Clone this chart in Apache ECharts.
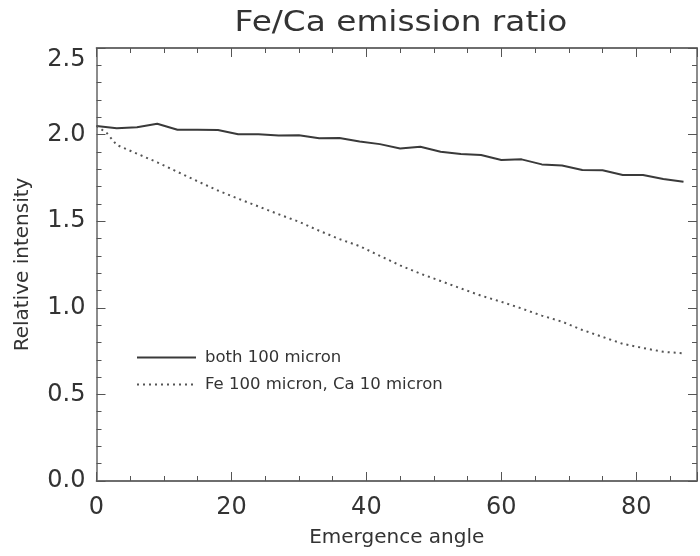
<!DOCTYPE html>
<html>
<head>
<meta charset="utf-8">
<script src="https://cdn.jsdelivr.net/npm/echarts@6/dist/echarts.min.js"></script>
<style>html,body{margin:0;padding:0;background:#fff;}#chart{width:700px;height:556px;}</style>
</head>
<body>
<div id="chart"></div>
<script>
// ---- data ----
const solidAngles = [0,3,6,9,12,15,18,21,24,27,30,33,36,39,42,45,48,51,54,57,60,63,66,69,72,75,78,81,84,87];
const solidValues = [2.05,2.037,2.042,2.063,2.028,2.028,2.027,2.002,2.002,1.995,1.996,1.979,1.980,1.960,1.945,1.920,1.930,1.901,1.888,1.882,1.853,1.857,1.828,1.822,1.796,1.794,1.767,1.767,1.744,1.728];
const dotAngles = [0,1.5,3,6,9,12,15,18,21,24,27,30,33,36,39,42,45,48,51,54,57,60,63,66,69,72,75,78,81,84,87];
const dotValues = [2.05,2.01,1.94,1.89,1.84,1.785,1.73,1.677,1.63,1.585,1.54,1.497,1.445,1.397,1.356,1.30,1.245,1.197,1.155,1.112,1.07,1.035,0.996,0.955,0.92,0.872,0.832,0.792,0.768,0.746,0.737];
const seriesNames = ['both 100 micron', 'Fe 100 micron, Ca 10 micron'];
const titleText = 'Fe/Ca emission ratio';
const xName = 'Emergence angle';
const yName = 'Relative intensity';

const FONT = 'DejaVu Sans';
const AX = '#666';
const chart = echarts.init(document.getElementById('chart'));

function xAx(pos, interval, len, labels) {
  return {
    type: 'value', position: pos, min: 0, max: 89, interval: interval, gridIndex: 0,
    axisLine: {show: true, onZero: false, lineStyle: {color: AX, width: 1.5}},
    axisTick: {show: true, inside: true, length: len, lineStyle: {color: '#555', width: 1}},
    axisLabel: labels ? {show: true, fontFamily: FONT, fontSize: 24, color: '#333', margin: 15,
      formatter: v => (v % 20 === 0 ? String(v) : '')} : {show: false},
    splitLine: {show: false},
    name: labels ? xName : '', nameLocation: 'middle', nameGap: 47,
    nameTextStyle: {fontFamily: FONT, fontSize: 20, color: '#333'}
  };
}
function yAx(pos, labels) {
  return {
    type: 'value', position: pos, min: 0, max: 2.5, interval: 0.5,
    axisLine: {show: true, onZero: false, lineStyle: {color: AX, width: 1.5}},
    axisTick: {show: true, inside: true, length: 9, lineStyle: {color: '#555'}},
    minorTick: {show: true, splitNumber: 5, length: 5, lineStyle: {color: '#555'}},
    axisLabel: labels ? {show: true, fontFamily: FONT, fontSize: 24, color: '#333', margin: 11,
      verticalAlignMaxLabel: 'top', formatter: v => v.toFixed(1)} : {show: false},
    splitLine: {show: false}, minorSplitLine: {show: false},
    name: labels ? yName : '', nameLocation: 'middle', nameGap: 64,
    nameTextStyle: {fontFamily: FONT, fontSize: 20, color: '#333'}
  };
}

chart.setOption({
  backgroundColor: '#fff',
  animation: false,
  grid: {left: 96.5, top: 48, width: 605.2, height: 433, containLabel: false},
  xAxis: [xAx('bottom', 20, 9, true), xAx('bottom', 5, 5, false), xAx('top', 20, 9, false), xAx('top', 5, 5, false)],
  yAxis: [yAx('left', true), yAx('right', false)],
  legend: {
    orient: 'vertical', left: 131, top: 344, itemWidth: 59, itemHeight: 14, itemGap: 10,
    itemStyle: {opacity: 0},
    textStyle: {fontFamily: FONT, fontSize: 16.5, color: '#333', padding: [0, 0, 0, 4]},
    data: seriesNames
  },
  graphic: [{
    type: 'text', x: 401, y: 24, scaleX: 1.17,
    style: {text: titleText, font: '28px "DejaVu Sans"', fill: '#333', textAlign: 'center', textVerticalAlign: 'middle'}
  }],
  series: [
    {
      name: seriesNames[0], type: 'line', xAxisIndex: 0, yAxisIndex: 0, symbol: 'none',
      data: solidAngles.map((a, i) => [a, solidValues[i]]),
      lineStyle: {color: '#3a3a3a', width: 2, type: 'solid'}, itemStyle: {color: '#3a3a3a'}
    },
    {
      name: seriesNames[1], type: 'line', xAxisIndex: 0, yAxisIndex: 0, symbol: 'none',
      data: dotAngles.map((a, i) => [a, dotValues[i]]),
      lineStyle: {color: '#555', width: 2, type: [2, 4]}, itemStyle: {color: '#555'}
    }
  ]
});
</script>
</body>
</html>
